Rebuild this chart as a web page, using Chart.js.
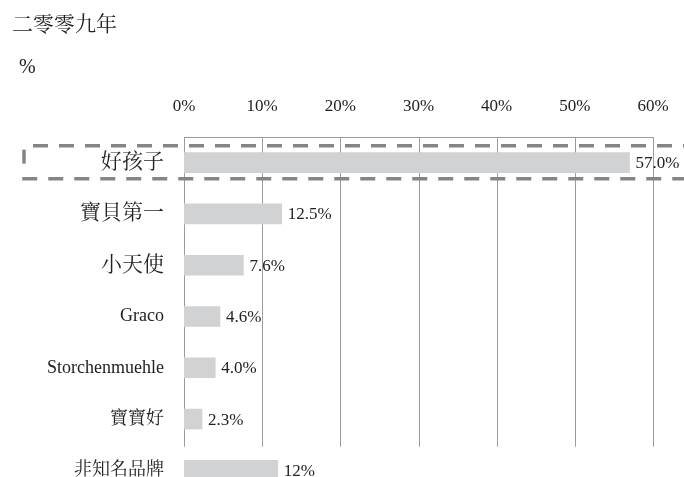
<!DOCTYPE html>
<html>
<head>
<meta charset="utf-8">
<script src="https://cdn.jsdelivr.net/npm/chart.js@4"></script>
<style>
html,body{margin:0;padding:0;background:#fff;overflow:hidden;width:684px;height:477px;}
#wrap{position:relative;width:684px;height:500px;}
</style>
</head>
<body>
<div id="wrap"><canvas id="c"></canvas></div>
<script>
const chartTitle = '二零零九年';
const unitLabel = '%';
const categories = ['好孩子', '寶貝第一', '小天使', 'Graco', 'Storchenmuehle', '寶寶好', '非知名品牌'];
const shares = [57.0, 12.5, 7.6, 4.6, 4.0, 2.3, 12];
const valueLabels = ['57.0%', '12.5%', '7.6%', '4.6%', '4.0%', '2.3%', '12%'];
const axisMin = 0, axisMax = 60, axisStep = 10;

const FONT = '"Liberation Serif", "Noto Serif CJK TC", "Noto Sans CJK TC", serif';
const TEXT = '#222';

const decor = {
  id: 'decor',
  beforeDatasetsDraw(chart) {
    const {ctx, chartArea, scales} = chart;
    const x = scales.x, y = scales.y;
    const n = categories.length;
    const yEnd = (y.getPixelForValue(n - 2) + y.getPixelForValue(n - 1)) / 2 + 2;
    ctx.save();
    ctx.strokeStyle = '#9c9c9c';
    ctx.lineWidth = 1;
    ctx.beginPath();
    x.ticks.forEach(t => {
      const px = Math.round(x.getPixelForValue(t.value)) + 0.5;
      ctx.moveTo(px, chartArea.top);
      ctx.lineTo(px, yEnd);
    });
    const top = Math.round(chartArea.top) + 0.5;
    ctx.moveTo(x.getPixelForValue(axisMin), top);
    ctx.lineTo(x.getPixelForValue(axisMax) + 1, top);
    ctx.stroke();
    ctx.restore();
  },
  afterDatasetsDraw(chart) {
    const {ctx, chartArea, scales} = chart;
    const y = scales.y;
    ctx.save();
    // value labels
    ctx.fillStyle = TEXT;
    ctx.font = '17px ' + FONT;
    ctx.textAlign = 'left';
    ctx.textBaseline = 'middle';
    const meta = chart.getDatasetMeta(0);
    meta.data.forEach((bar, i) => {
      ctx.fillText(valueLabels[i], bar.x + 6, bar.y + 1);
    });
    // dashed highlight box around first row
    const c0 = y.getPixelForValue(0);
    const bl = chartArea.left - 160, bt = c0 - 17, bb = c0 + 16, br = chart.width + 20;
    ctx.strokeStyle = '#858585';
    ctx.lineWidth = 3.5;
    ctx.setLineDash([15, 11]);
    ctx.lineDashOffset = -9;
    ctx.beginPath();
    ctx.moveTo(bl, bt); ctx.lineTo(br, bt);
    ctx.stroke();
    ctx.lineDashOffset = 0;
    ctx.beginPath();
    ctx.moveTo(bl - 1.75, bb); ctx.lineTo(br, bb);
    ctx.stroke();
    ctx.setLineDash([]);
    ctx.beginPath();
    ctx.moveTo(bl, bt + 4); ctx.lineTo(bl, bt + 18);
    ctx.stroke();
    // title and unit
    ctx.fillStyle = TEXT;
    ctx.textBaseline = 'middle';
    ctx.font = '21px ' + FONT;
    ctx.fillText(chartTitle, 12, 25);
    ctx.font = '20px ' + FONT;
    ctx.fillText(unitLabel, 19, 68);
    ctx.restore();
  }
};

new Chart(document.getElementById('c'), {
  type: 'bar',
  data: {
    labels: categories,
    datasets: [{
      data: shares,
      backgroundColor: '#d1d2d4',
      borderWidth: 0,
      barThickness: 20
    }]
  },
  options: {
    indexAxis: 'y',
    responsive: true,
    maintainAspectRatio: false,
    animation: false,
    devicePixelRatio: 1,
    layout: {padding: {top: 0, right: 31, bottom: 4, left: 0}},
    plugins: {legend: {display: false}, tooltip: {enabled: false}, title: {display: false}},
    scales: {
      x: {
        position: 'top',
        min: axisMin,
        max: axisMax,
        grid: {display: false, drawTicks: false},
        border: {display: false},
        ticks: {
          stepSize: axisStep,
          padding: 20,
          color: TEXT,
          font: {family: FONT, size: 17},
          callback: v => v + '%'
        },
        afterFit: s => { s.height = 137; s.paddingLeft = 0; s.paddingRight = 0; }
      },
      y: {
        grid: {display: false, drawTicks: false},
        border: {display: false},
        ticks: {
          padding: 20,
          color: TEXT,
          font: ctx => ({family: FONT, size: ctx.index < 3 ? 21 : 18})
        },
        afterFit: s => { s.width = 184; s.paddingTop = 0; s.paddingBottom = 0; }
      }
    }
  },
  plugins: [decor]
});
</script>
</body>
</html>
